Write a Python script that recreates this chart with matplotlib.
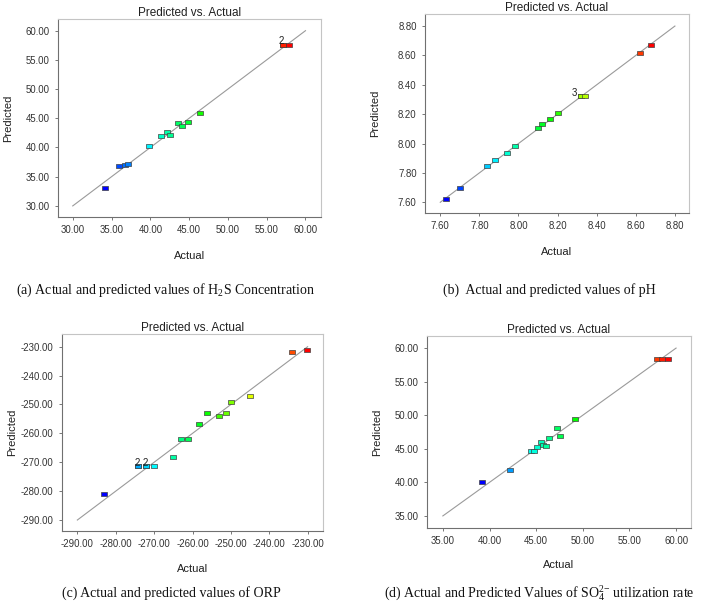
import matplotlib
matplotlib.use('Agg')
import matplotlib.pyplot as plt
from matplotlib.colors import LinearSegmentedColormap, Normalize
from matplotlib.ticker import FuncFormatter

plt.rcParams['font.family'] = ['Liberation Sans', 'DejaVu Sans']
plt.rcParams['mathtext.fontset'] = 'custom'
plt.rcParams['mathtext.rm'] = 'Liberation Serif'
plt.rcParams['mathtext.it'] = 'Liberation Serif:italic'

# (a) H2S concentration
actual_a = [34.1, 35.9, 36.7, 37.1, 39.8, 41.4, 42.1, 42.6, 43.6, 44.1, 44.9, 46.4, 57.1, 57.1, 57.9]
pred_a = [33.1, 36.9, 37.0, 37.1, 40.3, 41.9, 42.6, 42.2, 44.2, 43.7, 44.4, 45.9, 57.6, 57.6, 57.6]
ticks_a = [30, 35, 40, 45, 50, 55, 60]
lims_a = (28.1, 62.0)
dup_a = [(12, '2')]

# (b) pH
actual_b = [7.63, 7.70, 7.84, 7.88, 7.94, 7.98, 8.10, 8.12, 8.16, 8.20, 8.32, 8.32, 8.32, 8.34, 8.62, 8.68]
pred_b = [7.62, 7.70, 7.845, 7.888, 7.936, 7.98, 8.107, 8.13, 8.165, 8.21, 8.326, 8.326, 8.326, 8.326, 8.615, 8.673]
ticks_b = [7.6, 7.8, 8.0, 8.2, 8.4, 8.6, 8.8]
lims_b = (7.522, 8.872)
dup_b = [(10, '3')]

# (c) ORP
actual_c = [-283.1, -274.1, -274.1, -272.0, -272.0, -270.0, -265.1, -263.1, -261.1, -258.2,
            -256.1, -253.1, -251.2, -250.0, -245.0, -234.2, -230.1]
pred_c = [-281.0, -271.4, -271.4, -271.4, -271.4, -271.4, -268.2, -261.8, -261.8, -256.8,
          -253.0, -254.0, -253.1, -249.0, -247.1, -231.7, -231.0]
ticks_c = [-290, -280, -270, -260, -250, -240, -230]
lims_c = (-294.0, -226.0)
dup_c = [(1, '2'), (3, '2')]

# (d) SO4 utilization rate
actual_d = [39.2, 42.25, 44.5, 44.8, 45.1, 45.5, 45.7, 46.1, 46.4, 47.25, 47.6, 49.2, 58.0, 58.5, 59.1]
pred_d = [40.0, 41.8, 44.7, 44.7, 45.2, 46.05, 45.5, 45.35, 46.55, 48.1, 46.95, 49.5, 58.4, 58.4, 58.4]
ticks_d = [35, 40, 45, 50, 55, 60]
lims_d = (33.3, 61.6)
dup_d = []

captions = ['(a) Actual and predicted values of H$_{2}$S Concentration',
            '(b)  Actual and predicted values of pH',
            '(c) Actual and predicted values of ORP',
            '(d) Actual and Predicted Values of SO$_{4}^{2\\mathrm{-}}$ utilization rate']

W, H = 708, 606
# axes boxes in pixels: x0, y_top, x1, y_bottom
boxes = [(58, 19, 321, 217), (425, 14, 689, 213), (62, 334, 323, 531), (427, 336, 691, 528)]
cap_pos = [(16, 290), (443, 290), (62, 593), (384, 593)]

cmap = LinearSegmentedColormap.from_list('de', ['#0000ff', '#00ffff', '#00ff00', '#ffff00', '#ff0000'])
rect = [(-1.4, -1), (1.4, -1), (1.4, 1), (-1.4, 1), (-1.4, -1)]


def draw_panel(ax, actual, pred, ticks, lims, dups, ylims=None):
    ax.plot([ticks[0], ticks[-1]], [ticks[0], ticks[-1]], color='#9a9a9a', lw=0.8, zorder=1)
    norm = Normalize(min(actual), max(actual))
    for xa, yp in zip(actual, pred):
        ax.plot(xa, yp, marker=rect, markersize=4.4, color=cmap(norm(xa)),
                markeredgecolor='#404040', markeredgewidth=0.5, linestyle='None', zorder=3)
    for i, lab in dups:
        off = (-5, 2) if lab == '3' else (-1, 2.5)
        ax.annotate(lab, (actual[i], pred[i]), xytext=off, textcoords='offset points',
                    ha='center', va='center', fontsize=7, color='#202020', zorder=4)
    ax.set_xlim(lims)
    ax.set_ylim(ylims if ylims else lims)
    ax.set_xticks(ticks)
    ax.set_yticks(ticks)
    fmt = FuncFormatter(lambda v, p: '%.2f' % v)
    ax.xaxis.set_major_formatter(fmt)
    ax.yaxis.set_major_formatter(fmt)
    ax.tick_params(direction='out', length=2.5, width=0.6, color='#606060',
                   labelsize=6.9, labelcolor='#333333', pad=3.5)
    for s in ['left', 'bottom']:
        ax.spines[s].set_color('#707070')
        ax.spines[s].set_linewidth(0.8)
    for s in ['top', 'right']:
        ax.spines[s].set_color('#c4c4c4')
        ax.spines[s].set_linewidth(0.8)
    ax.set_title('Predicted vs. Actual', fontsize=8.5, color='#202020', pad=2)
    ax.set_xlabel('Actual', fontsize=8, color='#202020')
    ax.set_ylabel('Predicted', fontsize=8, color='#202020')
    ax.xaxis.set_label_coords(0.5, -0.195)
    ax.xaxis.label.set_va('center')
    ax.yaxis.set_label_coords(-0.19, 0.5)
    ax.yaxis.label.set_va('center')


fig = plt.figure(figsize=(W / 100, H / 100), dpi=100)
panels = [(actual_a, pred_a, ticks_a, lims_a, dup_a, None),
          (actual_b, pred_b, ticks_b, lims_b, dup_b, (7.527, 8.882)),
          (actual_c, pred_c, ticks_c, lims_c, dup_c, (-293.8, -225.6)),
          (actual_d, pred_d, ticks_d, lims_d, dup_d, (33.2, 61.8))]
for box, pn in zip(boxes, panels):
    x0, yt, x1, yb = box
    ax = fig.add_axes([x0 / W, (H - yb) / H, (x1 - x0) / W, (yb - yt) / H])
    draw_panel(ax, *pn)

for txt, (cx, cy) in zip(captions, cap_pos):
    fig.text(cx / W, (H - cy) / H, txt, ha='left', va='center', fontsize=10,
             family='Liberation Serif', color='#111111')

fig.savefig('out.png', dpi=100)
